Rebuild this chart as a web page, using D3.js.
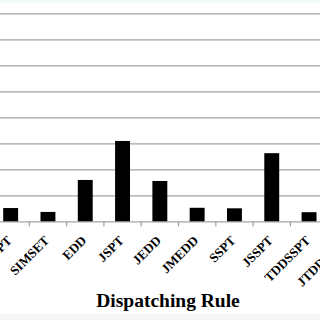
<!DOCTYPE html>
<html>
<head>
<meta charset="utf-8">
<script src="https://cdn.jsdelivr.net/npm/d3@7"></script>
<style>
  body { margin: 0; background: #fff; }
  svg { display: block; }
  .grid line { stroke: #a3a3a3; stroke-width: 1.3; }
  .grid path { display: none; }
</style>
</head>
<body>
<div id="chart"></div>
<script>
// dispatching rules and their bar heights (grid units)
const categories = ["SPT", "SIMSET", "EDD", "JSPT", "JEDD", "JMEDD", "SSPT", "JSSPT", "TDDSSPT", "JTDDSSPT"];
const values = [0.51, 0.36, 1.59, 3.09, 1.55, 0.52, 0.5, 2.62, 0.35, 0.5];
const yTicks = [0, 1, 2, 3, 4, 5, 6, 7, 8];
const xTitle = "Dispatching Rule";

const W = 320;
const H = 320;
const LEFT = -8;
const RIGHT = 365;
const BASE = 221.3;
const TOP = 13.3;

const svg = d3.select("#chart")
  .append("svg")
  .attr("width", W)
  .attr("height", H);

// faint strips seen at the very top and bottom of the picture
svg.append("rect").attr("x", 0).attr("y", 0).attr("width", W).attr("height", 3).attr("fill", "#f3f9f8");
svg.append("rect").attr("x", 0).attr("y", 314).attr("width", W).attr("height", 6).attr("fill", "#f5f5f5");

const x = d3.scaleBand()
  .domain(categories)
  .range([LEFT, RIGHT])
  .paddingInner(0.6)
  .paddingOuter(0.3);

const y = d3.scaleLinear()
  .domain([0, 8])
  .range([BASE, TOP]);

// horizontal gridlines
svg.append("g")
  .attr("class", "grid")
  .attr("transform", "translate(" + LEFT + ",0)")
  .call(d3.axisLeft(y).tickValues(yTicks).tickSize(-(RIGHT - LEFT)).tickFormat(""));

// bars
svg.selectAll("rect.bar")
  .data(values)
  .enter()
  .append("rect")
  .attr("class", "bar")
  .attr("x", function(d, i) { return x(categories[i]); })
  .attr("y", function(d) { return y(d); })
  .attr("width", x.bandwidth())
  .attr("height", function(d) { return y(0) - y(d); })
  .attr("fill", "#000");

// tick marks between categories
const half = (x.step() - x.bandwidth()) / 2;
svg.selectAll("line.tick")
  .data(categories)
  .enter()
  .append("line")
  .attr("class", "tick")
  .attr("x1", function(d) { return x(d) - half; })
  .attr("x2", function(d) { return x(d) - half; })
  .attr("y1", BASE)
  .attr("y2", BASE + 5)
  .attr("stroke", "#a3a3a3")
  .attr("stroke-width", 1.3);

// rotated category labels
svg.selectAll("text.cat")
  .data(categories)
  .enter()
  .append("text")
  .attr("class", "cat")
  .text(function(d) { return d; })
  .attr("text-anchor", "end")
  .attr("font-family", "'Liberation Serif', 'Times New Roman', serif")
  .attr("font-weight", "bold")
  .attr("font-size", "13px")
  .attr("fill", "#000")
  .attr("transform", function(d) {
    const cx = x(d) + x.bandwidth() / 2 + 2;
    return "translate(" + cx + "," + (BASE + 20) + ") rotate(-45)";
  });

// axis title
svg.append("text")
  .text(xTitle)
  .attr("x", 168)
  .attr("y", 306.7)
  .attr("text-anchor", "middle")
  .attr("font-family", "'Liberation Serif', 'Times New Roman', serif")
  .attr("font-weight", "bold")
  .attr("font-size", "19.5px")
  .attr("fill", "#000");
</script>
</body>
</html>
